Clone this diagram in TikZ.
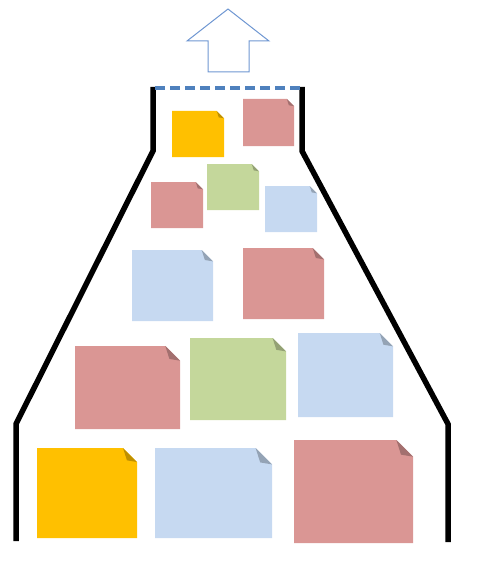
\documentclass[tikz,border=0pt]{standalone}
\usepackage{tikz}
\definecolor{noteyellow}{HTML}{FFC000}
\definecolor{notered}{HTML}{DA9694}
\definecolor{notegreen}{HTML}{C4D79B}
\definecolor{noteblue}{HTML}{C6D9F1}
\definecolor{outblue}{HTML}{4F81BD}
\definecolor{arrowblue}{HTML}{6F97D2}
\tikzset{
  wall/.style={line width=5.5pt, black},
  lid/.style={line width=4pt, outblue, dash pattern=on 10pt off 5pt},
  uparrow/.style={draw=arrowblue, line width=1pt, fill=white}
}
\begin{document}
\begin{tikzpicture}[x=1pt,y=-1pt]
      \useasboundingbox (0,0) rectangle (481,575);
      \coordinate (lt) at (153,87);
      \coordinate (lk) at (153,151);
      \coordinate (lb) at (16,424);
      \coordinate (le) at (16,541);
      \coordinate (rt) at (302,87);
      \coordinate (rk) at (302,151);
      \coordinate (rb) at (448,424);
      \coordinate (re) at (448,542);
      \draw[wall] (lt) -- (lk) -- (lb) -- (le);
      \draw[wall] (rt) -- (rk) -- (rb) -- (re);
      \draw[lid] ([xshift=2pt]lt |- 0,88) -- ([xshift=-2pt]rt |- 0,88);
      \draw[uparrow] (228,9) -- (269,41) -- (249,41) -- (249,72)
        -- (208,72) -- (208,41) -- (187,41) -- cycle;
      \foreach \xa/\ya/\xb/\yb/\c in {
          172/111/224/157/noteyellow,
          243/99/294/146/notered,
          151/182/203/228/notered,
          207/164/259/210/notegreen,
          265/186/317/232/noteblue,
          132/250/213/321/noteblue,
          243/248/324/319/notered,
          75/346/180/429/notered,
          190/338/286/420/notegreen,
          298/333/393/417/noteblue,
          37/448/137/538/noteyellow,
          155/448/272/538/noteblue,
          294/440/413/543/notered}{
        \pgfmathsetmacro{\f}{0.14*(\xb-\xa)}
        \fill[\c] (\xa,\ya) -- (\xb-\f,\ya) -- (\xb,\ya+\f) -- (\xb,\yb)
          -- (\xa,\yb) -- cycle;
        \fill[\c!75!black] (\xb-\f,\ya) -- (\xb,\ya+\f)
          -- (\xb-0.72*\f,\ya+0.88*\f) -- cycle;
      }
    \end{tikzpicture}
\end{document}
